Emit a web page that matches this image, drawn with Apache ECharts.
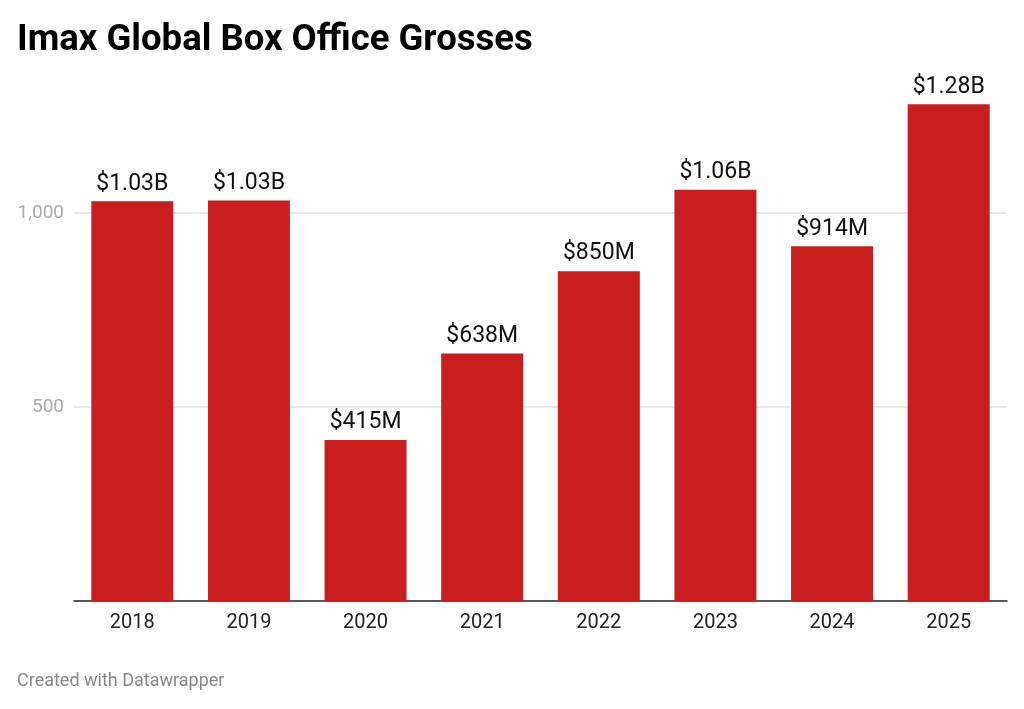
<!DOCTYPE html>
<html>
<head>
<meta charset="utf-8">
<script src="https://cdn.jsdelivr.net/npm/echarts@6/dist/echarts.min.js"></script>
<style>
  html, body { margin: 0; padding: 0; background: #fff; }
  #chart { width: 1024px; height: 709px; }
</style>
</head>
<body>
<div id="chart"></div>
<script>
// data (millions of dollars)
var years = ['2018', '2019', '2020', '2021', '2022', '2023', '2024', '2025'];
var grosses = [1030, 1032, 415, 638, 850, 1060, 914, 1280];
var grossLabels = ['$1.03B', '$1.03B', '$415M', '$638M', '$850M', '$1.06B', '$914M', '$1.28B'];
var yTicks = [500, 1000];

var chart = echarts.init(document.getElementById('chart'));

var option = {
    animation: false,
    backgroundColor: '#fff',
    textStyle: { fontFamily: 'Roboto' },
    title: {
        text: 'Imax Global Box Office Grosses',
        left: 17,
        top: 22,
        padding: 0,
        textStyle: { fontFamily: 'Roboto', fontWeight: 'bold', fontSize: 36.5, color: '#000' }
    },
    graphic: [{
        type: 'text',
        left: 17,
        top: 672,
        style: { text: 'Created with Datawrapper', fill: '#888', font: '18px Roboto' }
    }],
    grid: { left: 74, right: 17, top: 96.6, bottom: 108 },
    xAxis: {
        type: 'category',
        data: years,
        axisLine: { lineStyle: { color: '#222', width: 1.5 } },
        axisTick: { show: false },
        axisLabel: { color: '#222', fontSize: 20, margin: 12 }
    },
    yAxis: {
        type: 'value',
        min: 0,
        max: 1300,
        interval: 500,
        axisLine: { show: false },
        axisTick: { show: false },
        axisLabel: {
            color: '#aaa',
            fontSize: 19,
            margin: 10,
            formatter: function (v) {
                if (yTicks.indexOf(v) == -1) return '';
                return v.toLocaleString('en-US');
            }
        },
        splitLine: {
            lineStyle: { color: ['transparent', '#e3e3e3', '#e3e3e3', 'transparent'], width: 1.5 }
        }
    },
    series: [{
        type: 'bar',
        data: grosses,
        barCategoryGap: '29.7%',
        itemStyle: { color: '#c81e1e' },
        label: {
            show: true,
            position: 'top',
            distance: 6,
            color: '#111',
            fontSize: 23,
            formatter: function (p) { return grossLabels[p.dataIndex]; }
        }
    }]
};

chart.setOption(option);
</script>
</body>
</html>
